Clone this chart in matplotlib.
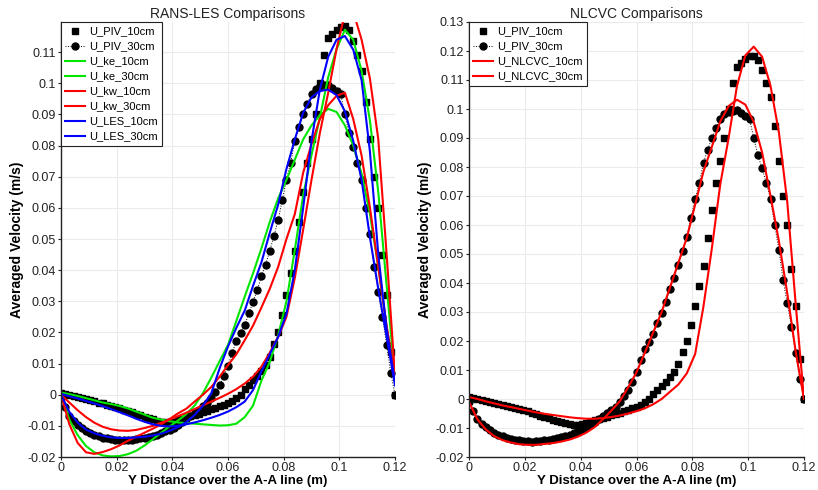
import numpy as np
import matplotlib.pyplot as plt

OUT_PATH = "out.png"

# PIV samples every 1.5 mm, CFD lines read every 3 mm
Y_PIV = np.linspace(0.0, 0.12, 81)
Y_CFD = np.linspace(0.0, 0.12, 41)

U_PIV_10 = [
    0.0007, 0.0003, 0.0000, -0.0004, -0.0007, -0.0011, -0.0015, -0.0018, -0.0021, -0.0025,
    -0.0028, -0.0032, -0.0035, -0.0039, -0.0043, -0.0048, -0.0052, -0.0057, -0.0062, -0.0066,
    -0.0071, -0.0075, -0.0079, -0.0083, -0.0086, -0.0088, -0.0088, -0.0086, -0.0082, -0.0078,
    -0.0073, -0.0069, -0.0065, -0.0061, -0.0056, -0.0052, -0.0047, -0.0042, -0.0037, -0.0032,
    -0.0027, -0.0021, -0.0012, 0.0000, 0.0018, 0.0032, 0.0046, 0.0060, 0.0076, 0.0094,
    0.0122, 0.0163, 0.0200, 0.0255, 0.0320, 0.0390, 0.0460, 0.0555, 0.0650, 0.0745,
    0.0820, 0.0900, 0.1000, 0.1090, 0.1145, 0.1160, 0.1172, 0.1182, 0.1183, 0.1170,
    0.1135, 0.1090, 0.1040, 0.0940, 0.0820, 0.0700, 0.0600, 0.0450, 0.0320, 0.0137,
    0.0000,
]

U_PIV_30 = [
    -0.0010, -0.0040, -0.0068, -0.0085, -0.0098, -0.0108, -0.0117, -0.0123, -0.0129, -0.0134,
    -0.0138, -0.0140, -0.0143, -0.0145, -0.0146, -0.0147, -0.0146, -0.0144, -0.0142, -0.0140,
    -0.0138, -0.0135, -0.0132, -0.0129, -0.0124, -0.0118, -0.0112, -0.0106, -0.0097, -0.0088,
    -0.0078, -0.0069, -0.0059, -0.0048, -0.0037, -0.0026, -0.0010, 0.0010, 0.0030, 0.0060,
    0.0092, 0.0135, 0.0172, 0.0198, 0.0223, 0.0262, 0.0298, 0.0335, 0.0380, 0.0418,
    0.0462, 0.0510, 0.0560, 0.0625, 0.0690, 0.0745, 0.0815, 0.0860, 0.0900, 0.0935,
    0.0966, 0.0982, 0.0990, 0.0994, 0.0995, 0.0985, 0.0975, 0.0965, 0.0900, 0.0840,
    0.0795, 0.0745, 0.0690, 0.0600, 0.0515, 0.0410, 0.0330, 0.0250, 0.0160, 0.0070,
    0.0000,
]

U_KE_10 = [
    0.0007, 0.0002, -0.0004, -0.0011, -0.0018, -0.0025, -0.0030, -0.0036, -0.0044, -0.0054,
    -0.0064, -0.0074, -0.0080, -0.0085, -0.0089, -0.0091, -0.0093, -0.0095, -0.0097, -0.0099,
    -0.0098, -0.0093, -0.0072, -0.0035, 0.0045, 0.0105, 0.0190, 0.0300, 0.0465, 0.0640,
    0.0770, 0.0890, 0.1020, 0.1110, 0.1172, 0.1140, 0.1040, 0.0880, 0.0650, 0.0350,
    0.0050,
]

U_KE_30 = [
    0.0000, -0.0080, -0.0130, -0.0165, -0.0185, -0.0195, -0.0198, -0.0197, -0.0191, -0.0180,
    -0.0163, -0.0143, -0.0122, -0.0102, -0.0083, -0.0062, -0.0035, 0.0005, 0.0055, 0.0108,
    0.0160, 0.0237, 0.0315, 0.0390, 0.0470, 0.0555, 0.0630, 0.0690, 0.0755, 0.0820,
    0.0865, 0.0898, 0.0918, 0.0908, 0.0865, 0.0800, 0.0710, 0.0580, 0.0410, 0.0220,
    0.0040,
]

U_KW_10 = [
    0.0000, -0.0025, -0.0050, -0.0072, -0.0090, -0.0103, -0.0111, -0.0115, -0.0116, -0.0113,
    -0.0107, -0.0100, -0.0090, -0.0080, -0.0069, -0.0058, -0.0046, -0.0034, -0.0022, -0.0010,
    0.0003, 0.0018, 0.0036, 0.0058, 0.0090, 0.0135, 0.0185, 0.0250, 0.0375, 0.0530,
    0.0690, 0.0840, 0.0970, 0.1110, 0.1225, 0.1230, 0.1140, 0.1015, 0.0820, 0.0450,
    0.0060,
]

U_KW_30 = [
    0.0000, -0.0095, -0.0155, -0.0185, -0.0190, -0.0184, -0.0175, -0.0163, -0.0148, -0.0135,
    -0.0122, -0.0109, -0.0095, -0.0078, -0.0060, -0.0045, -0.0022, 0.0000, 0.0025, 0.0058,
    0.0095, 0.0130, 0.0175, 0.0222, 0.0280, 0.0340, 0.0410, 0.0500, 0.0580, 0.0713,
    0.0805, 0.0885, 0.0930, 0.0960, 0.0970, 0.0885, 0.0768, 0.0600, 0.0410, 0.0220,
    0.0060,
]

U_LES_10 = [
    0.0003, -0.0005, -0.0012, -0.0020, -0.0028, -0.0037, -0.0046, -0.0056, -0.0066, -0.0077,
    -0.0087, -0.0095, -0.0100, -0.0102, -0.0100, -0.0095, -0.0089, -0.0082, -0.0074, -0.0065,
    -0.0054, -0.0040, -0.0022, 0.0015, 0.0075, 0.0130, 0.0185, 0.0260, 0.0400, 0.0600,
    0.0815, 0.0980, 0.1085, 0.1140, 0.1152, 0.1108, 0.1010, 0.0780, 0.0450, 0.0210,
    0.0040,
]

U_LES_30 = [
    0.0000, -0.0055, -0.0090, -0.0112, -0.0124, -0.0132, -0.0137, -0.0139, -0.0139, -0.0137,
    -0.0135, -0.0131, -0.0125, -0.0116, -0.0104, -0.0088, -0.0065, -0.0035, 0.0005, 0.0085,
    0.0155, 0.0215, 0.0270, 0.0350, 0.0425, 0.0520, 0.0610, 0.0725, 0.0820, 0.0905,
    0.0955, 0.0975, 0.0980, 0.0962, 0.0910, 0.0815, 0.0690, 0.0505, 0.0340, 0.0185,
    0.0030,
]

U_NLCVC_10 = [
    0.0007, 0.0000, -0.0008, -0.0015, -0.0022, -0.0028, -0.0034, -0.0040, -0.0046, -0.0051,
    -0.0055, -0.0059, -0.0063, -0.0066, -0.0068, -0.0068, -0.0066, -0.0062, -0.0057, -0.0050,
    -0.0042, -0.0032, -0.0018, 0.0000, 0.0025, 0.0050, 0.0088, 0.0155, 0.0320, 0.0520,
    0.0740, 0.0900, 0.1080, 0.1185, 0.1215, 0.1180, 0.1080, 0.0920, 0.0680, 0.0330,
    0.0000,
]

U_NLCVC_30 = [
    -0.0010, -0.0070, -0.0105, -0.0128, -0.0142, -0.0150, -0.0156, -0.0158, -0.0158, -0.0155,
    -0.0152, -0.0147, -0.0140, -0.0130, -0.0116, -0.0097, -0.0070, -0.0040, -0.0008, 0.0040,
    0.0092, 0.0160, 0.0230, 0.0300, 0.0385, 0.0470, 0.0555, 0.0670, 0.0785, 0.0870,
    0.0957, 0.1010, 0.1032, 0.1015, 0.0955, 0.0850, 0.0700, 0.0545, 0.0365, 0.0165,
    0.0000,
]

X_TICKS = [0, 0.02, 0.04, 0.06, 0.08, 0.1, 0.12]
X_TICK_LABELS = ["0", "0.02", "0.04", "0.06", "0.08", "0.1", "0.12"]

GREEN = "#00e600"
RED = "#ff0000"
BLUE = "#0000ff"


def style_axes(ax, title, ymax, yticks):
    ax.set_xlim(0, 0.12)
    ax.set_ylim(-0.02, ymax)
    ax.set_xticks(X_TICKS)
    ax.set_xticklabels(X_TICK_LABELS)
    ax.set_yticks(yticks)
    ax.set_yticklabels(["%g" % round(t, 2) for t in yticks])
    ax.grid(True, color="#ebebeb", linewidth=0.8)
    ax.set_axisbelow(True)
    for side in ("top", "right"):
        ax.spines[side].set_visible(False)
    for side in ("left", "bottom"):
        ax.spines[side].set_color("#222222")
        ax.spines[side].set_linewidth(1.0)
    ax.tick_params(labelsize=9, colors="#222222", length=2, width=0.8, pad=1.5)
    ax.set_title(title, fontsize=10, pad=3, color="#222222")
    ax.set_xlabel("Y Distance over the A-A line (m)", fontsize=9.5,
                  fontweight="bold", labelpad=0.5)
    ax.set_ylabel("Averaged Velocity (m/s)", fontsize=10, fontweight="bold",
                  labelpad=3)
    leg = ax.legend(loc="upper left", fontsize=8, borderaxespad=0,
                    fancybox=False, framealpha=1, edgecolor="#222222",
                    handlelength=1.8, handletextpad=0.3, labelspacing=0.45,
                    borderpad=0.4)
    leg.get_frame().set_linewidth(0.8)


def plot_piv(ax):
    ax.plot(Y_PIV, U_PIV_10, linestyle="none", marker="s", markersize=5,
            color="black", label="U_PIV_10cm")
    ax.plot(Y_PIV, U_PIV_30, linestyle=":", linewidth=0.7, marker="o",
            markersize=5, color="black", label="U_PIV_30cm")


def main():
    plt.rcParams["font.family"] = ["Liberation Sans", "DejaVu Sans"]
    fig = plt.figure(figsize=(8.18, 4.90), dpi=100)

    ax1 = fig.add_axes([61 / 818, 33 / 490, 334 / 818, 435 / 490])
    plot_piv(ax1)
    lw = 1.5
    ax1.plot(Y_CFD, U_KE_10, color=GREEN, lw=lw, label="U_ke_10cm")
    ax1.plot(Y_CFD, U_KE_30, color=GREEN, lw=lw, label="U_ke_30cm")
    ax1.plot(Y_CFD, U_KW_10, color=RED, lw=lw, label="U_kw_10cm")
    ax1.plot(Y_CFD, U_KW_30, color=RED, lw=lw, label="U_kw_30cm")
    ax1.plot(Y_CFD, U_LES_10, color=BLUE, lw=lw, label="U_LES_10cm")
    ax1.plot(Y_CFD, U_LES_30, color=BLUE, lw=lw, label="U_LES_30cm")
    style_axes(ax1, "RANS-LES Comparisons", 0.1197,
               [i / 100 for i in range(-2, 12)])

    ax2 = fig.add_axes([469 / 818, 33 / 490, 335 / 818, 435 / 490])
    plot_piv(ax2)
    ax2.plot(Y_CFD, U_NLCVC_10, color=RED, lw=lw, label="U_NLCVC_10cm")
    ax2.plot(Y_CFD, U_NLCVC_30, color=RED, lw=lw, label="U_NLCVC_30cm")
    style_axes(ax2, "NLCVC Comparisons", 0.13,
               [i / 100 for i in range(-2, 14)])

    fig.savefig(OUT_PATH, dpi=100)
    plt.close(fig)


if __name__ == "__main__":
    main()
